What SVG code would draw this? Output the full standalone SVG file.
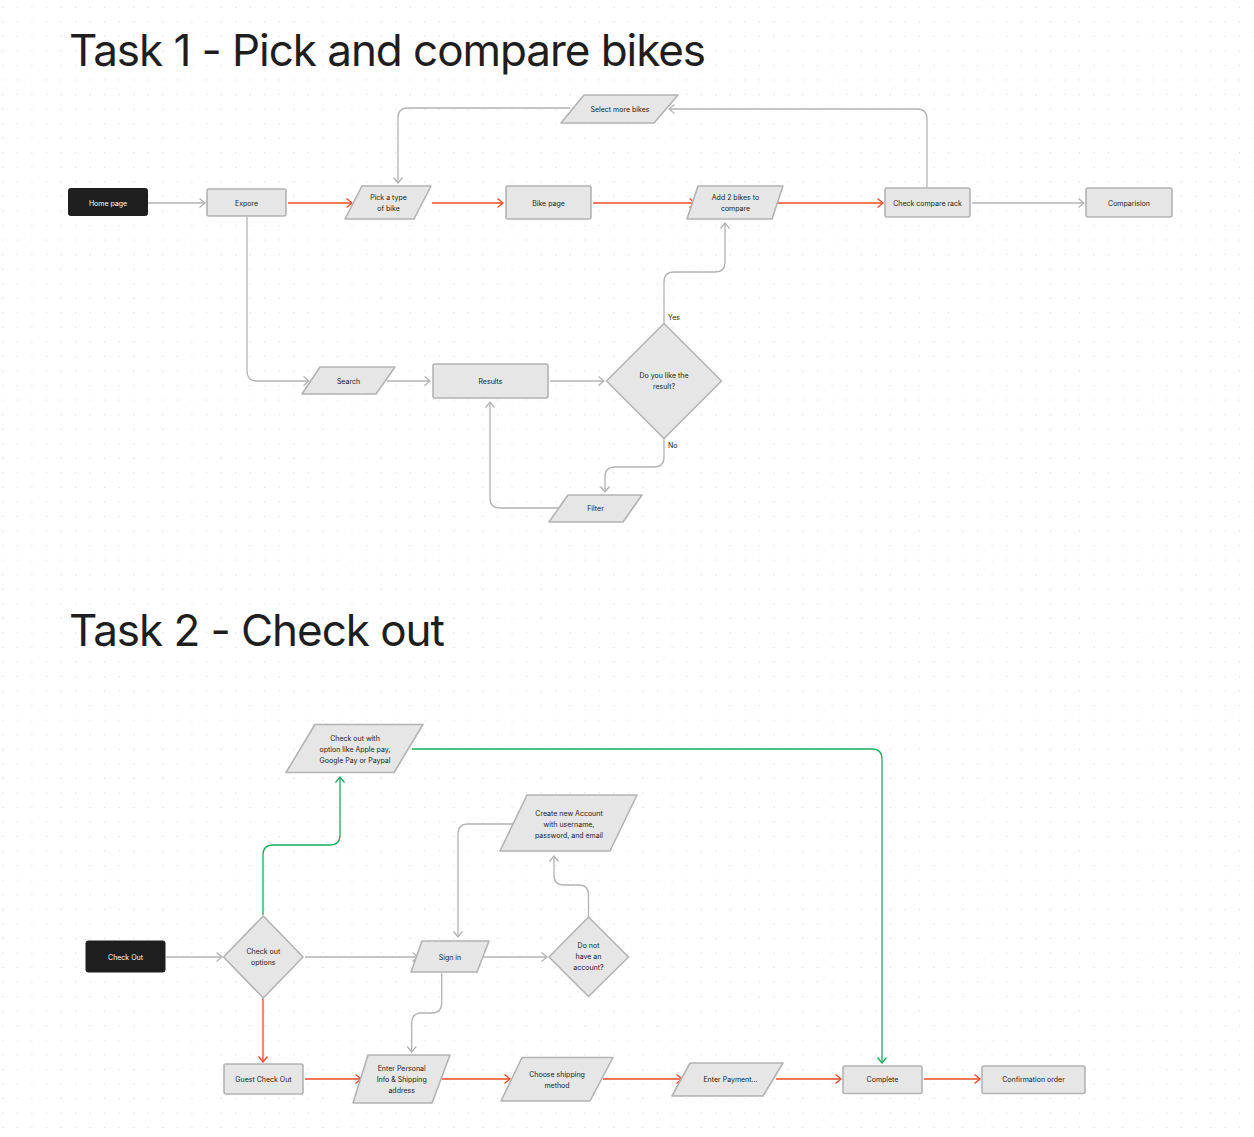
<svg xmlns="http://www.w3.org/2000/svg" width="1254" height="1137" viewBox="0 0 1254 1137">
<defs>
<pattern id="dots" patternUnits="userSpaceOnUse" x="2.25" y="6.7" width="14.55" height="14.55">
<circle cx="0.6" cy="0.6" r="0.6" fill="#d4d4d4"/>
</pattern>
<marker id="ag" viewBox="-7 -6 8 12" markerWidth="8" markerHeight="12" refX="0" refY="0" markerUnits="userSpaceOnUse" orient="auto">
<path d="M-5.5,-4.5 L0,0 L-5.5,4.5" fill="none" stroke="#b3b3b3" stroke-width="1.3"/>
</marker>
<marker id="ar" viewBox="-7 -6 8 12" markerWidth="8" markerHeight="12" refX="0" refY="0" markerUnits="userSpaceOnUse" orient="auto">
<path d="M-5.5,-4.5 L0,0 L-5.5,4.5" fill="none" stroke="#f24822" stroke-width="1.3"/>
</marker>
<marker id="agr" viewBox="-7 -6 8 12" markerWidth="8" markerHeight="12" refX="0" refY="0" markerUnits="userSpaceOnUse" orient="auto">
<path d="M-5.5,-4.5 L0,0 L-5.5,4.5" fill="none" stroke="#14ae5c" stroke-width="1.3"/>
</marker>
</defs>
<style>
.title{font-family:Inter,"Liberation Sans",sans-serif;font-size:44px;letter-spacing:-1.05px;fill:#1e1e1e}
.n{fill:#e6e6e6;stroke:#b3b3b3;stroke-width:1.6;stroke-linejoin:round}
.k{fill:#1e1e1e;stroke:#1e1e1e;stroke-width:1}
.t{font-family:Inter,"Liberation Sans",sans-serif;font-size:7px;fill:#222;text-anchor:middle;dominant-baseline:central}
.tw{font-family:Inter,"Liberation Sans",sans-serif;font-size:7px;fill:#fff;text-anchor:middle;dominant-baseline:central}
.lbl{font-family:Inter,"Liberation Sans",sans-serif;font-size:7px;fill:#222;dominant-baseline:central}
.g{fill:none;stroke:#b3b3b3;stroke-width:1.3;marker-end:url(#ag)}
.r{fill:none;stroke:#f24822;stroke-width:1.3;marker-end:url(#ar)}
.gr{fill:none;stroke:#14ae5c;stroke-width:1.3;marker-end:url(#agr)}
</style>
<rect x="0" y="0" width="1254" height="1137" fill="#ffffff"/>
<rect x="0" y="0" width="1254" height="1137" fill="url(#dots)"/>

<text class="title" x="69" y="66">Task 1 - Pick and compare bikes</text>
<text class="title" x="69" y="646">Task 2 - Check out</text>

<g id="connectors">
<path class="g" d="M148,203 H205"/>
<path class="g" d="M972,203 H1084"/>
<path class="g" d="M927,187 V119 Q927,109 917,109 H669"/>
<path class="g" d="M570,108 H408 Q398,108 398,118 V183"/>
<path class="g" d="M247,217 V371 Q247,381 257,381 H309"/>
<path class="g" d="M387,381 H430"/>
<path class="g" d="M550,381 H604"/>
<path class="g" d="M664,323 V282 Q664,272 674,272 H715 Q725,272 725,262 V223"/>
<path class="g" d="M664,439 V457 Q664,467 654,467 H615 Q605,467 605,477 V492"/>
<path class="g" d="M558,508 H500 Q490,508 490,498 V402"/>
<path class="g" d="M166,957 H222"/>
<path class="g" d="M305,957 H418"/>
<path class="g" d="M482,957 H547"/>
<path class="g" d="M588.5,917 V895 Q588.5,885 578.5,885 H564 Q554,885 554,875 V856"/>
<path class="g" d="M513,824 H468 Q458,824 458,834 V937"/>
<path class="g" d="M441.7,973 V1003 Q441.7,1013 431.7,1013 H421.7 Q411.7,1013 411.7,1023 V1052"/>
<path class="r" d="M288,203 H352"/>
<path class="r" d="M432,203 H503"/>
<path class="r" d="M593,203 H695"/>
<path class="r" d="M775,203 H883"/>
<path class="r" d="M263,998 V1062"/>
<path class="r" d="M305,1079 H361"/>
<path class="r" d="M442,1079 H510"/>
<path class="r" d="M603,1079 H682"/>
<path class="r" d="M776,1079 H841"/>
<path class="r" d="M924,1079 H980"/>
<path class="gr" d="M263,915 V855 Q263,845 273,845 H330 Q340,845 340,835 V777"/>
<path class="gr" d="M412,749 H872 Q882,749 882,759 V1063"/>
<text class="lbl" x="668" y="317.5">Yes</text>
<text class="lbl" x="668" y="445">No</text>
</g>

<g id="home-page"><rect class="k" x="68.5" y="188.5" width="79" height="27" rx="2"/><text class="tw" x="108" y="203">Home page</text></g>
<g id="expore"><rect class="n" x="207" y="189" width="79" height="27" rx="2"/><text class="t" x="246.5" y="203">Expore</text></g>
<g id="pick-type"><polygon class="n" points="362,186 431,186 414,219 345,219"/><text class="t" x="388.5" y="197.7">Pick a type</text><text class="t" x="388.5" y="208.5">of bike</text></g>
<g id="bike-page"><rect class="n" x="506" y="186" width="85" height="33" rx="2"/><text class="t" x="548.5" y="203">Bike page</text></g>
<g id="add-bikes"><polygon class="n" points="698,186 783,186 772,219 687,219"/><text class="t" x="735.5" y="197.5">Add 2 bikes to</text><text class="t" x="735.5" y="208.5">compare</text></g>
<g id="select-more"><polygon class="n" points="584,95 678,95 654,123 561,123"/><text class="t" x="620" y="109">Select more bikes</text></g>
<g id="check-compare"><rect class="n" x="885" y="188" width="85" height="29" rx="2"/><text class="t" x="927.5" y="203">Check compare rack</text></g>
<g id="comparision"><rect class="n" x="1086" y="188" width="86" height="29" rx="2"/><text class="t" x="1129" y="203">Comparision</text></g>
<g id="search"><polygon class="n" points="320,367 395,367 376,394 302,394"/><text class="t" x="348.5" y="381">Search</text></g>
<g id="results"><rect class="n" x="433" y="364" width="115" height="34" rx="2"/><text class="t" x="490.5" y="381">Results</text></g>
<g id="like-result"><polygon class="n" points="664,323.5 721.5,381 664,438.5 606.5,381"/><text class="t" x="664" y="375.7">Do you like the</text><text class="t" x="664" y="386.7">result?</text></g>
<g id="filter"><polygon class="n" points="568,495 642,495 623,522 549,522"/><text class="t" x="595.5" y="508.5">Filter</text></g>

<g id="check-out"><rect class="k" x="86" y="941" width="79" height="31" rx="2"/><text class="tw" x="125.5" y="957">Check Out</text></g>
<g id="checkout-options"><polygon class="n" points="263.3,916 303,957 263.3,998 223.5,957"/><text class="t" x="263.3" y="951.5">Check out</text><text class="t" x="263.3" y="962.5">options</text></g>
<g id="sign-in"><polygon class="n" points="422,941 489,941 477,972 411,972"/><text class="t" x="450" y="957">Sign in</text></g>
<g id="no-account"><polygon class="n" points="588.5,917 628.5,957 588.5,996.5 549,957"/><text class="t" x="588.5" y="945.7">Do not</text><text class="t" x="588.5" y="956.7">have an</text><text class="t" x="588.5" y="967.7">account?</text></g>
<g id="create-account"><polygon class="n" points="527,795 637,795 610,851 500,851"/><text class="t" x="569" y="813.7">Create new Account</text><text class="t" x="569" y="824.5">with username,</text><text class="t" x="569" y="835.3">password, and email</text></g>
<g id="pay-options"><polygon class="n" points="315,724.5 423,724.5 394,772.5 286,772.5"/><text class="t" x="355" y="738.8">Check out with</text><text class="t" x="355" y="749.8">option like Apple pay,</text><text class="t" x="355" y="760.8">Google Pay or Paypal</text></g>
<g id="guest-checkout"><rect class="n" x="224" y="1064" width="79" height="30" rx="2"/><text class="t" x="263.5" y="1079.3">Guest Check Out</text></g>
<g id="enter-personal"><polygon class="n" points="368,1055 450,1055 432,1103 353,1103"/><text class="t" x="401.7" y="1068.7">Enter Personal</text><text class="t" x="401.7" y="1079.7">Info &amp; Shipping</text><text class="t" x="401.7" y="1090.7">address</text></g>
<g id="shipping-method"><polygon class="n" points="522,1057.5 613,1057.5 590,1101 501,1101"/><text class="t" x="557" y="1074.3">Choose shipping</text><text class="t" x="557" y="1085.2">method</text></g>
<g id="enter-payment"><polygon class="n" points="690,1063 783,1063 763,1096 672,1096"/><text class="t" x="730.5" y="1079.8">Enter Payment...</text></g>
<g id="complete"><rect class="n" x="843" y="1066" width="79" height="27.5" rx="2"/><text class="t" x="882.5" y="1079.8">Complete</text></g>
<g id="confirmation"><rect class="n" x="982" y="1066" width="103" height="27.5" rx="2"/><text class="t" x="1033.5" y="1079.8">Confirmation order</text></g>
</svg>
